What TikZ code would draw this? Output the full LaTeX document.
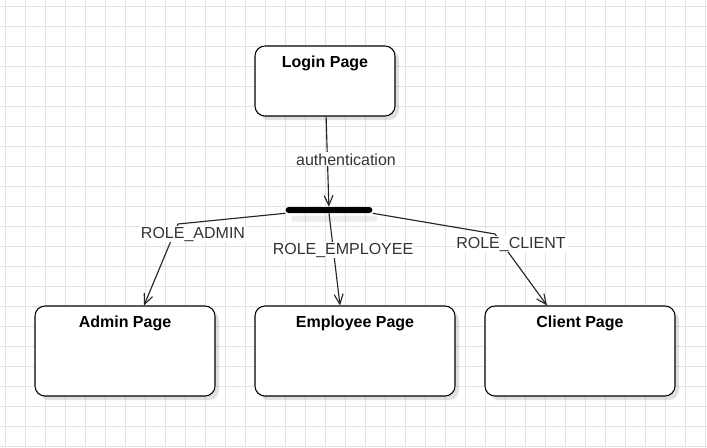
\documentclass[tikz,border=0pt]{standalone}
\usepackage{fontspec}
\setmainfont{Liberation Sans}
\usetikzlibrary{arrows.meta,calc,shadows}
\begin{document}
\begin{tikzpicture}[x=0.75pt, y=-0.75pt, font=\fontsize{12pt}{14pt}\selectfont,
grid line/.style={black!11, line width=0.75pt},
page node/.style={rectangle,draw,rounded corners=7.5pt,fill=white,line width=0.8pt,minimum height=67.5pt,inner sep=0pt,drop shadow={shadow xshift=3pt,shadow yshift=-3pt,fill=black,opacity=0.12}},
title/.style={anchor=base,font=\fontsize{12pt}{14pt}\selectfont\bfseries},
bar node/.style={rectangle,fill=black,rounded corners=2.25pt,minimum width=65pt,minimum height=4.5pt,inner sep=0pt,drop shadow={shadow xshift=4pt,shadow yshift=-6.5pt,fill=black,opacity=0.07}},
role label/.style={anchor=base,fill=white,text=black!80,inner sep=0.75pt},
flow/.style={-{Straight Barb[length=7.5pt,width=6.75pt]},black!85,line width=0.85pt}]
\useasboundingbox (0,0) rectangle (707,447);
\fill [white] (0,0) rectangle (707,447);
% grid
\foreach \gx in {5,25,...,705} \draw [grid line] (\gx,0) -- (\gx,447);
\foreach \gy in {6,26,...,446} \draw [grid line] (0,\gy) -- (707,\gy);
% states
\node [page node,minimum width=105pt,minimum height=52.5pt] (login) at (325,81) {};
\node [bar node] (fork) at (329,210) {};
\node [page node,minimum width=135pt] (admin) at (125,351) {};
\node [page node,minimum width=150pt] (employee) at (355,351) {};
\node [page node,minimum width=142.5pt] (client) at (580,351) {};
\node [title] (tlogin) at ($(login.north)+(0,22)$) {Login Page};
\node [title] (tadmin) at ($(admin.north)+(0,22)$) {Admin Page};
\node [title] (temployee) at ($(employee.north)+(0,22)$) {Employee Page};
\node [title] (tclient) at ($(client.north)+(0,22)$) {Client Page};
% transitions
\draw [flow] (login) -- (fork);
\draw [flow] (fork.south west) -- (178,224) -- ($(admin.north)+(19,0)$);
\draw [flow] (fork.south) -- ($(employee.north)+(-15,0)$);
\draw [flow] (fork.south east) -- (495,234) -- ($(client.north)+(-33,0)$);
% labels
\node [role label] (lauth) at (346,165) {authentication};
\node [role label] (ladmin) at (193,238) {ROLE\_ADMIN};
\node [role label] (lemployee) at (343,254) {ROLE\_EMPLOYEE};
\node [role label] (lclient) at (511,248) {ROLE\_CLIENT};
\end{tikzpicture}
\end{document}
